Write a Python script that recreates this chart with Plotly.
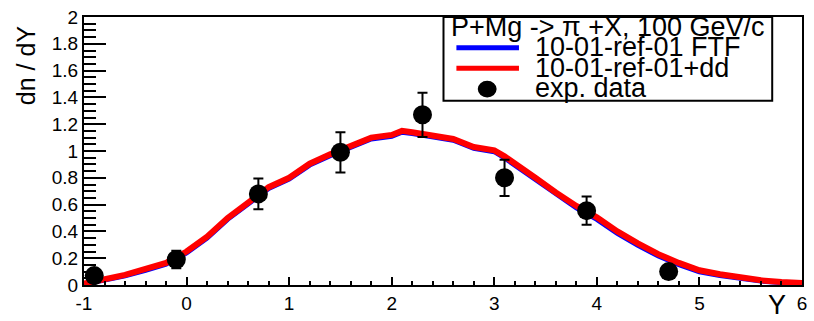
import plotly.graph_objects as go

# Rapidity distribution of pi+ in P+Mg at 100 GeV/c
title_text = "P+Mg -> \u03c0 +X, 100 GeV/c"
name_ftf = "10-01-ref-01 FTF"
name_dd = "10-01-ref-01+dd"
name_data = "exp. data"

# x tick labels (plain hyphen for the negative value)
x_tickvals = [-1, 0, 1, 2, 3, 4, 5, 6]
x_ticktext = ["-1", "0", "1", "2", "3", "4", "5", "6"]

# model curves
y_model = [-1.0, -0.8, -0.6, -0.4, -0.2, 0.0, 0.2, 0.4, 0.6, 0.8, 1.0, 1.2, 1.4, 1.6,
           1.8, 2.0, 2.1, 2.2, 2.4, 2.6, 2.8, 3.0, 3.1, 3.2, 3.4, 3.6, 3.8, 4.0,
           4.2, 4.4, 4.6, 4.8, 5.0, 5.2, 5.4, 5.6, 5.8, 6.0]
dn_ftf = [0.006, 0.034, 0.068, 0.11, 0.155, 0.24, 0.35, 0.49, 0.61, 0.72, 0.79, 0.895,
          0.965, 1.03, 1.09, 1.11, 1.14, 1.13, 1.105, 1.08, 1.02, 0.995, 0.948, 0.895,
          0.785, 0.675, 0.575, 0.49, 0.385, 0.296, 0.216, 0.152, 0.098, 0.07, 0.046, 0.029,
          0.018, 0.011]
dn_dd = [0.01, 0.04, 0.075, 0.12, 0.165, 0.25, 0.36, 0.5, 0.62, 0.73, 0.8, 0.905,
         0.975, 1.04, 1.1, 1.12, 1.15, 1.14, 1.115, 1.09, 1.03, 1.005, 0.96, 0.91,
         0.8, 0.69, 0.59, 0.505, 0.4, 0.31, 0.23, 0.165, 0.11, 0.08, 0.055, 0.035,
         0.022, 0.015]

# measured points
y_exp = [-0.9, -0.1, 0.7, 1.5, 2.3, 3.1, 3.9, 4.7]
dn_exp = [0.07, 0.19, 0.68, 0.99, 1.27, 0.80, 0.555, 0.10]
dn_err = [0.01, 0.065, 0.115, 0.15, 0.165, 0.135, 0.105, 0.02]

W, H = 814, 321
L, R, T, B = 84, 7, 11, 35
PW, PH = W - L - R, H - T - B


def px(x):
    return (x - L) / PW


def py(y):
    return (H - B - y) / PH


FONT = "Liberation Sans, Arial, Helvetica, sans-serif"

fig = go.Figure()
fig.add_trace(go.Scatter(x=y_model, y=dn_ftf, mode="lines", name=name_ftf,
                         line=dict(color="#0000ff", width=5), showlegend=False))
fig.add_trace(go.Scatter(x=y_model, y=dn_dd, mode="lines", name=name_dd,
                         line=dict(color="#ff0000", width=6), showlegend=False))
fig.add_trace(go.Scatter(x=y_exp, y=dn_exp, mode="markers", name=name_data,
                         marker=dict(color="black", size=19, symbol="circle"),
                         error_y=dict(type="data", array=dn_err, color="black",
                                      thickness=2, width=5),
                         showlegend=False))

# legend box drawn at pixel positions
shapes = [
    dict(type="rect", xref="paper", yref="paper", x0=px(446), x1=px(777),
         y0=py(97), y1=py(11), line=dict(color="black", width=2),
         fillcolor="white", layer="above"),
    dict(type="line", xref="paper", yref="paper", x0=px(459), x1=px(522),
         y0=py(42.5), y1=py(42.5), line=dict(color="#0000ff", width=5), layer="above"),
    dict(type="line", xref="paper", yref="paper", x0=px(459), x1=px(522),
         y0=py(63.5), y1=py(63.5), line=dict(color="#ff0000", width=5), layer="above"),
    dict(type="circle", xref="paper", yref="paper", x0=px(480.5), x1=px(499.5),
         y0=py(93.5), y1=py(76.5), line=dict(color="black", width=0),
         fillcolor="black", layer="above"),
]

ann = [
    dict(text=title_text, x=px(452), y=py(21), xanchor="left", yanchor="middle"),
    dict(text=name_ftf, x=px(536), y=py(42), xanchor="left", yanchor="middle"),
    dict(text=name_dd, x=px(536), y=py(63), xanchor="left", yanchor="middle"),
    dict(text=name_data, x=px(536), y=py(84), xanchor="left", yanchor="middle"),
]
annotations = []
for a in ann:
    a.update(xref="paper", yref="paper", showarrow=False,
             font=dict(family=FONT, size=27, color="black"))
    annotations.append(a)

# axis titles
annotations.append(dict(text="Y", x=px(782), y=py(307), xref="paper", yref="paper",
                        showarrow=False, xanchor="center", yanchor="middle",
                        font=dict(family=FONT, size=27, color="black")))
annotations.append(dict(text="dn / dY", x=px(25), y=py(60), xref="paper", yref="paper",
                        showarrow=False, xanchor="center", yanchor="middle", textangle=-90,
                        font=dict(family=FONT, size=25, color="black")))

fig.update_layout(
    width=W, height=H,
    margin=dict(l=L, r=R, t=T, b=B),
    paper_bgcolor="white", plot_bgcolor="white",
    shapes=shapes, annotations=annotations,
    showlegend=False,
    font=dict(family=FONT, size=19, color="black"),
)
fig.update_xaxes(range=[-1, 6], tickmode="array", tickvals=x_tickvals, ticktext=x_ticktext,
                 ticks="inside", ticklen=8, ticklabelstandoff=0,
                 tickwidth=2, tickcolor="black", showline=True, linewidth=2,
                 linecolor="black", mirror=True, showgrid=False, zeroline=False,
                 minor=dict(dtick=0.2, ticks="inside", ticklen=4, tickwidth=2,
                            tickcolor="black", showgrid=False),
                 tickfont=dict(family=FONT, size=19, color="black"))
fig.update_yaxes(range=[0, 2], dtick=0.2, tick0=0, ticks="inside", ticklen=22,
                 tickwidth=2, tickcolor="black", showline=True, linewidth=2,
                 linecolor="black", mirror=True, showgrid=False, zeroline=False,
                 minor=dict(dtick=0.05, ticks="inside", ticklen=12, tickwidth=2,
                            tickcolor="black", showgrid=False),
                 tickfont=dict(family=FONT, size=19, color="black"))

fig.write_html("out.html")
